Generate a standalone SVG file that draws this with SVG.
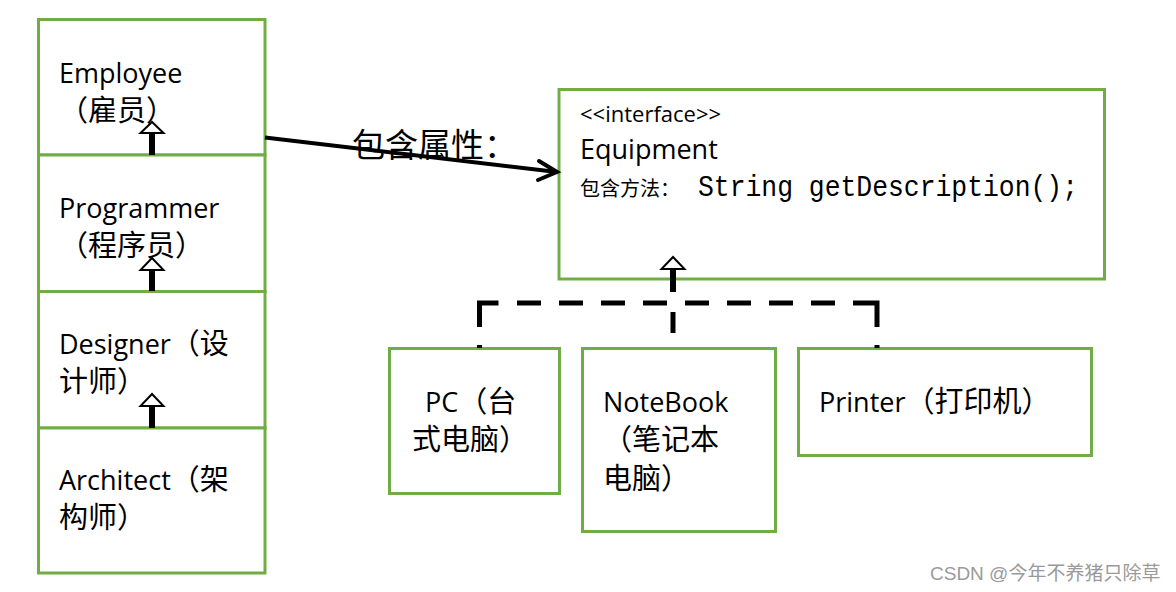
<svg xmlns="http://www.w3.org/2000/svg" width="1176" height="592" viewBox="0 0 1176 592">
<defs>
<style>
.box{fill:#ffffff;stroke:#70AD47;stroke-width:3}
.t{font-family:"Open Sans","Noto Sans CJK SC",sans-serif;font-size:27px;fill:#000}
.c{font-family:"Noto Sans CJK SC",sans-serif;font-size:29px}
.cjk{font-family:"Noto Sans CJK SC",sans-serif;fill:#000}
.mono{font-family:"Liberation Mono","Noto Sans CJK SC",monospace;fill:#000}
.stem{stroke:#000;stroke-width:6;fill:none}
.dash{stroke:#000;stroke-width:5;fill:none}
.tri{fill:#fff;stroke:#000;stroke-width:2;stroke-linejoin:miter}
</style>
</defs>
<rect width="1176" height="592" fill="#fff"/>

<g id="employee">
<rect class="box" x="38.5" y="19.5" width="226.5" height="135.5"/>
<text class="t" x="59" y="83">Employee<tspan class="c" x="59" y="121">（雇员）</tspan></text>
</g>
<g id="programmer">
<rect class="box" x="38.5" y="155" width="226.5" height="136.5"/>
<text class="t" x="59" y="218">Programmer<tspan class="c" x="59" y="256">（程序员）</tspan></text>
</g>
<g id="designer">
<rect class="box" x="38.5" y="291.5" width="226.5" height="136.5"/>
<text class="t" x="59" y="354">Designer<tspan class="c">（设</tspan><tspan class="c" x="59" y="392">计师）</tspan></text>
</g>
<g id="architect">
<rect class="box" x="38.5" y="428" width="226.5" height="145"/>
<text class="t" x="59" y="490">Architect<tspan class="c">（架</tspan><tspan class="c" x="59" y="528">构师）</tspan></text>
</g>

<g id="equipment">
<rect class="box" x="559" y="89.5" width="545.5" height="189.5"/>
<text class="t" x="580" y="122" style="font-size:22px">&lt;&lt;interface&gt;&gt;</text>
<text class="t" x="580" y="159">Equipment</text>
<text class="cjk" x="580" y="196" style="font-size:20px">包含方法：</text>
<text class="mono" x="698" y="196" style="font-size:30px" textLength="380" lengthAdjust="spacingAndGlyphs">String getDescription();</text>
</g>

<g id="pc">
<rect class="box" x="389.5" y="348.5" width="170" height="145"/>
<text class="t" x="425" y="412">PC<tspan class="c">（台</tspan><tspan class="c" x="412" y="450">式电脑）</tspan></text>
</g>
<g id="notebook">
<rect class="box" x="582.5" y="348.5" width="193" height="183"/>
<text class="t" x="603" y="412">NoteBook<tspan class="c" x="603" y="450">（笔记本</tspan><tspan class="c" x="603" y="489">电脑）</tspan></text>
</g>
<g id="printer">
<rect class="box" x="798.5" y="348.5" width="293" height="107"/>
<text class="t" x="819" y="412">Printer<tspan class="c">（打印机）</tspan></text>
</g>

<g id="connectors">
<line class="stem" x1="152" y1="155" x2="152" y2="132"/>
<polygon class="tri" points="140.5,133 163.5,133 152,122"/>
<line class="stem" x1="152" y1="291" x2="152" y2="269"/>
<polygon class="tri" points="140.5,270 163.5,270 152,258"/>
<line class="stem" x1="152" y1="428" x2="152" y2="405"/>
<polygon class="tri" points="140.5,406 163.5,406 152,394"/>
<line x1="265" y1="137.5" x2="557" y2="172" stroke="#000" stroke-width="4"/>
<polyline points="539,161 557,172 538,180" fill="none" stroke="#000" stroke-width="4" stroke-linejoin="miter" stroke-linecap="round"/>
<text class="cjk" x="352" y="157" style="font-size:33px">包含属性：</text>
<path class="dash" d="M479.5,348 V303 H877 V348" stroke-dasharray="3 18 43 18.5 24 18 24 18 24 18 24 18 24 18 24 18 24 18 24 18 48 18 3 20"/>
<path class="dash" d="M673,348 V292" stroke-dasharray="0 15 21 30"/>
<line class="stem" x1="673" y1="292" x2="673" y2="268"/>
<polygon class="tri" points="661.5,269 684.5,269 673,257"/>
</g>

<text x="930" y="580" style="font-family:'Liberation Sans','Noto Sans CJK SC',sans-serif;font-size:19px" fill="#9a9a9a">CSDN @今年不养猪只除草</text>
</svg>
